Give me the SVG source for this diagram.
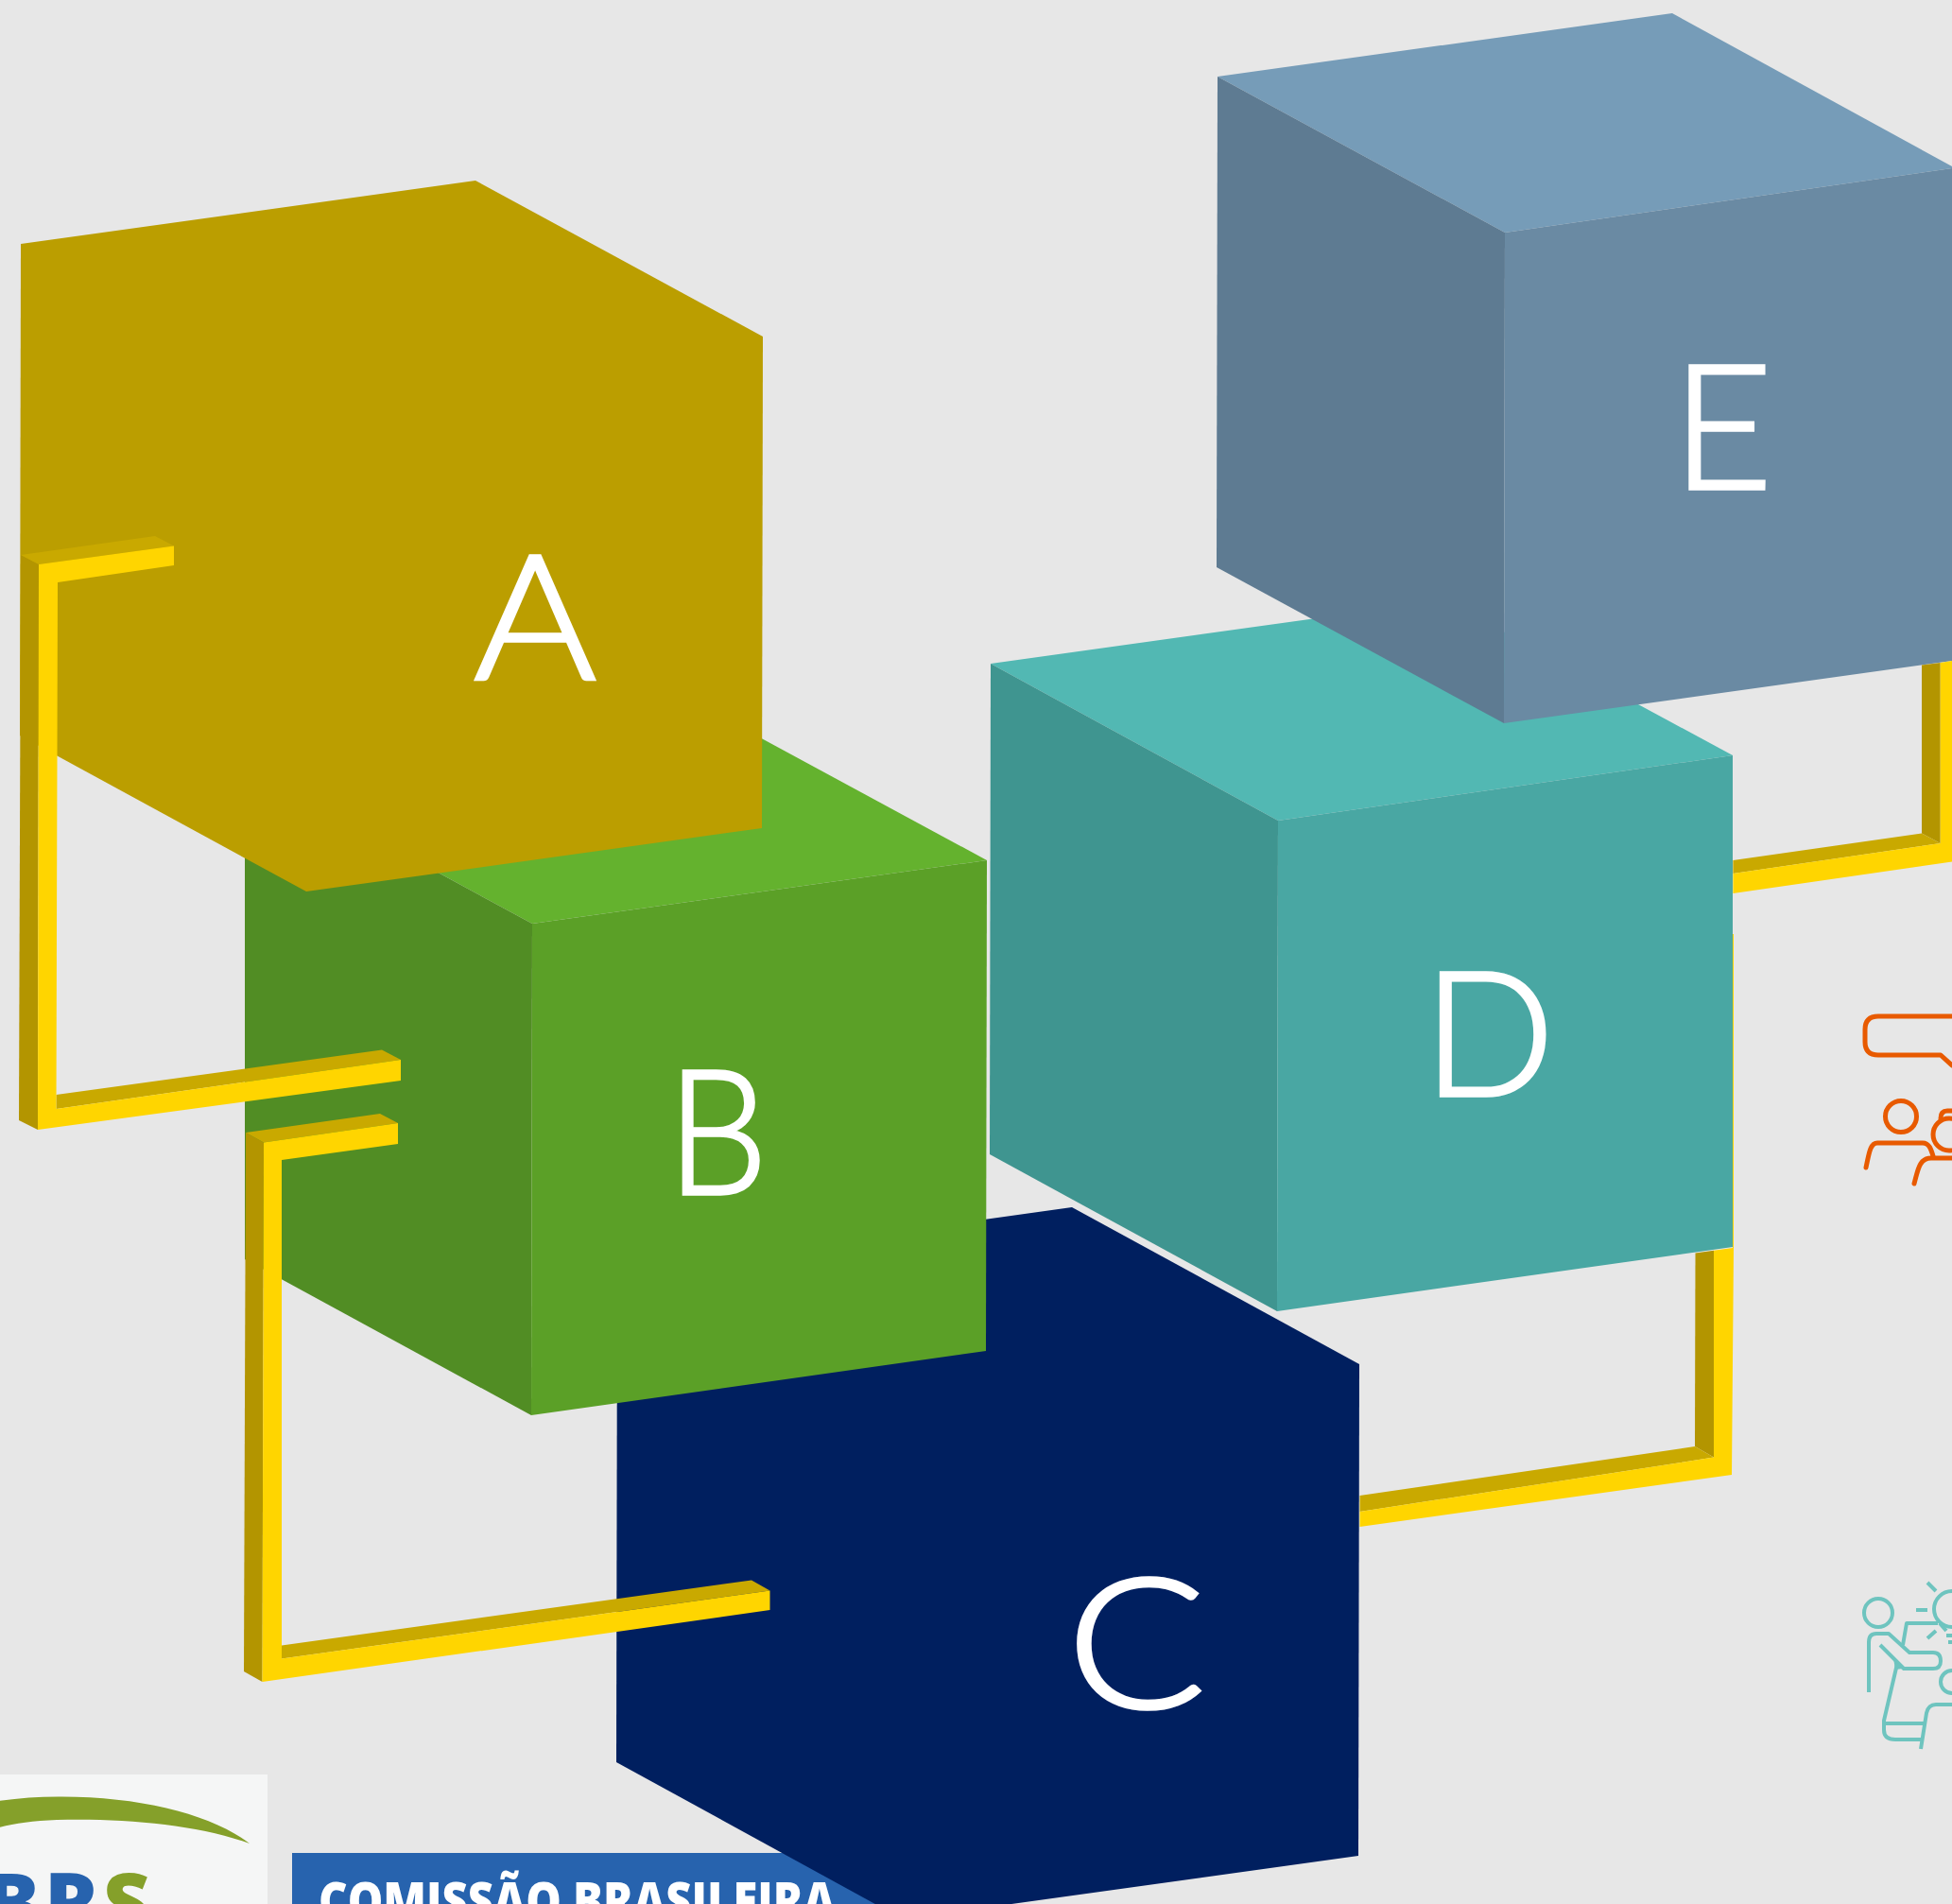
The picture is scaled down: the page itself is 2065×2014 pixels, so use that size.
<svg xmlns="http://www.w3.org/2000/svg" width="2065" height="2014" viewBox="0 0 2065 2014">
<style>
.lab{font-family:"Lato","Inter",sans-serif;font-weight:300;font-size:183px;fill:#fff;stroke:#fff;stroke-width:3.5px;text-anchor:middle}
.y{fill:#ffd500}.t{fill:#c9a900}.l{fill:#b39500}
.or{fill:none;stroke:#e85a00;stroke-width:5;stroke-linecap:round;stroke-linejoin:round}
.te{fill:none;stroke:#6ec4bf;stroke-width:4;stroke-linejoin:round}
</style>
<rect width="2065" height="2014" fill="#e7e7e7"/>
<g id="logo-left">
<rect x="0" y="1877" width="283" height="137" fill="#f5f6f6"/>
<path d="M-1,1905 C20,1902 40,1900.5 62,1900.5 C150,1900 225,1920 264,1950 C210,1930 130,1923 60,1925 C35,1926 15,1929 -1,1933 Z" fill="#85a02a"/>
<text y="2044" font-family="'Open Sans',sans-serif" font-weight="800" font-size="86" fill="#2763ae" x="-16 47 109">BR<tspan fill="#85a02a">S</tspan></text>
</g>
<g id="logo-comissao">
<rect x="309" y="1960" width="640" height="54" fill="#2763ae"/>
<text x="337" y="2030" font-family="'Open Sans',sans-serif" font-weight="800" font-size="54" fill="#fff" textLength="547" lengthAdjust="spacingAndGlyphs">COMISSÃO BRASILEIRA</text>
</g>
<g id="icon-orange" class="or">
<path d="M2065,1075 H1987 Q1973,1075 1973,1089 V1102 Q1973,1116 1987,1116 H2053 L2065,1127"/>
<circle cx="2011" cy="1181" r="16.5"/>
<path d="M1974,1235 C1977,1222 1978,1209 1986,1209 H2034 C2041,1209 2043,1216 2045,1223"/>
<circle cx="2062" cy="1200" r="17"/>
<path d="M2053,1183 Q2053,1175 2060,1175 H2065"/>
<path d="M2025,1252 C2029,1238 2030,1225 2043,1225 H2065"/>
</g>
<g id="icon-teal" class="te">
<circle cx="1987" cy="1706" r="15"/>
<path d="M1977,1790 V1737 Q1977,1728 1985,1728 H1998 L2020,1748 H2045 Q2053,1748 2053,1757 Q2053,1765 2045,1765 H2014 L1989,1740"/>
<path d="M2007,1760 L1993,1820 V1830 Q1993,1840 2005,1840 H2033"/>
<path d="M1995,1823 H2035"/>
<path d="M2032,1850 L2038,1812 Q2040,1803 2048,1803 H2065"/>
<circle cx="2065" cy="1779" r="12"/>
<circle cx="2065" cy="1702" r="19"/>
<path d="M2039,1674 L2048,1683 M2027,1703 H2039 M2039,1733 L2048,1725"/>
<path d="M2013,1740 L2017,1717 H2050 M2052,1717 L2059,1725 M2059,1730 H2065 M2061,1737 H2065"/>
<path d="M2003,1754 L2013,1765 L2005,1766 Z" fill="#6ec4bf" stroke="none"/>
</g>
<g id="node-C">
<polygon points="653,1344 1134,1277 1438,1443 1437,1963 955,2030 652,1864" fill="#001f5f"/>
<text class="lab" transform="translate(1202,1806) scale(1.19,1.05)">C</text>
</g>
<g id="node-B">
<polygon points="259,812 739,745 1044,910 563,977" fill="#64b22e"/>
<polygon points="259,812 563,977 562,1497 259,1332" fill="#518d24"/>
<polygon points="563,977 1044,910 1043,1429 562,1497" fill="#5ba027"/>
<text class="lab" transform="translate(759,1263) scale(.92,1)">B</text>
</g>
<g id="node-A">
<polygon points="22,258 503,191 807,356 806,876 324,943 21,778" fill="#bb9e00"/>
<text class="lab" transform="translate(566,718) scale(1.08,1)">A</text>
</g>
<g id="node-D">
<polygon points="1048,702 1529,635 1833,799 1352,868" fill="#52b8b3"/>
<polygon points="1048,702 1352,868 1351,1387 1047,1221" fill="#3f9590"/>
<polygon points="1352,868 1833,799 1833,1319 1351,1387" fill="#49a7a3"/>
<text class="lab" x="1575" y="1159">D</text>
</g>
<g id="node-E">
<polygon points="1288,81 1769,14 2065,176 2065,178 1592,246" fill="#769cb8"/>
<polygon points="1288,81 1592,246 1591,765 1287,600" fill="#5e7b92"/>
<polygon points="1592,246 2065,178 2065,699 1591,765" fill="#6a8aa3"/>
<text class="lab" x="1822" y="517">E</text>
</g>
<g id="connectors">
<g id="conn-A-B">
<polygon class="l" points="22,587 41,597 40,1195 20,1185"/>
<polygon class="t" points="22,587 164,567 184,577.5 41,597"/>
<polygon class="t" points="59.5,1158 404,1110.5 424,1121 59.5,1173"/>
<polygon class="y" points="41,597 184,577.5 184,598 61,616 59.5,1173 424,1121 424,1143 40,1195"/>
</g>
<g id="conn-B-C">
<polygon class="l" points="260,1198 279,1208.5 277.5,1779 258,1768"/>
<polygon class="t" points="260,1198 402,1178 421,1188 279,1208.5"/>
<polygon class="t" points="298,1740.5 795,1671.5 814.5,1682.5 298,1754.5"/>
<polygon class="y" points="279,1208.5 421,1188 421,1210 298,1227 298,1754.5 814.5,1682.5 814.5,1703 277.5,1779"/>
</g>
<g id="conn-C-D">
<polygon class="l" points="1793.5,1325.5 1813,1322.8 1813,1541.6 1793,1530"/>
<polygon class="t" points="1438.5,1582 1793,1530 1813,1541.6 1438.5,1599"/>
<polygon class="y" points="1813,1322.8 1833,1320 1833,988 1834,988 1834,1320 1832,1560 1438.5,1615 1438.5,1599 1813,1541.6"/>
</g>
<g id="conn-D-E">
<polygon class="l" points="2033,703.6 2052.7,700.9 2052.7,892 2033,881.5"/>
<polygon class="t" points="1833.4,910 2033,881.5 2052.7,892 1833.4,924"/>
<polygon class="y" points="2052.7,700.9 2065,699 2065,911.5 1833.4,945 1833.4,924 2052.7,892"/>
</g>
</g>
</svg>
